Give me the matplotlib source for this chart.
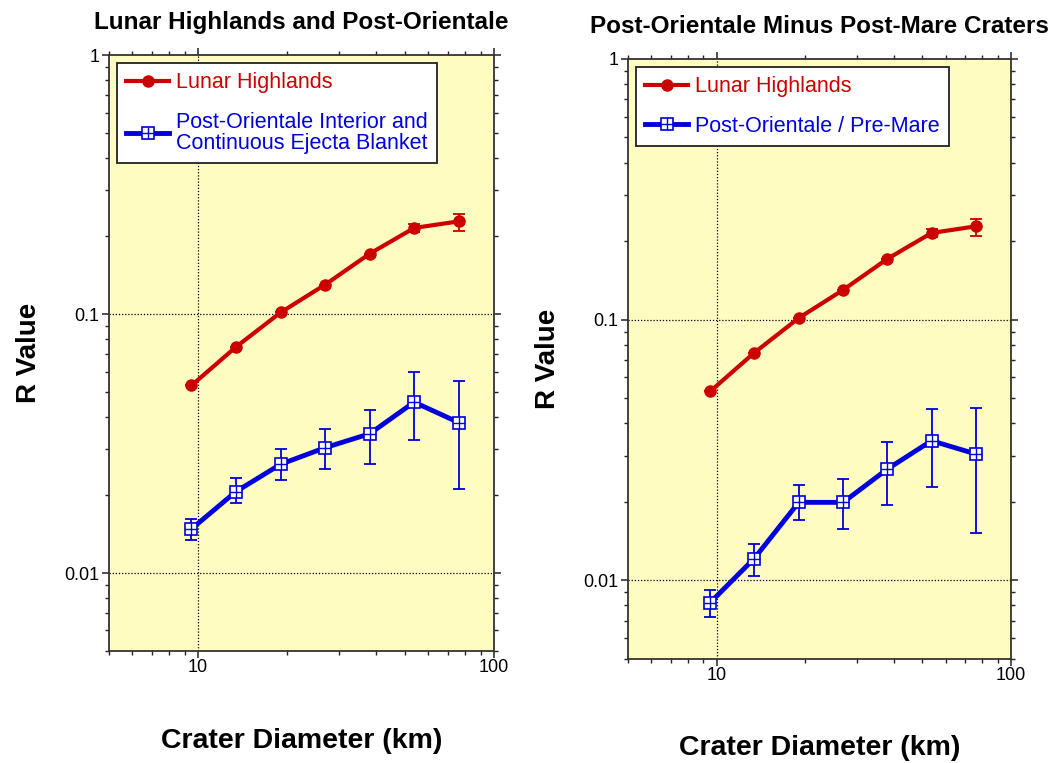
import matplotlib.pyplot as plt
from matplotlib.legend_handler import HandlerTuple
from matplotlib.ticker import LogLocator, FixedLocator, FixedFormatter, NullFormatter
import numpy as np

plt.rcParams['font.family'] = ['Liberation Sans', 'DejaVu Sans']

# Data
diameter = [9.5, 13.4, 19.0, 26.9, 38.0, 53.7, 76.0]

highlands = [0.053, 0.0745, 0.1014, 0.130, 0.171, 0.215, 0.228]
highlands_lo = [0.053, 0.0745, 0.1014, 0.130, 0.171, 0.207, 0.209]
highlands_hi = [0.053, 0.0745, 0.1014, 0.130, 0.171, 0.223, 0.244]

post_ori = [0.0148, 0.0206, 0.0263, 0.0305, 0.0345, 0.0457, 0.0381]
post_ori_lo = [0.0134, 0.0186, 0.0228, 0.0252, 0.0263, 0.0326, 0.0212]
post_ori_hi = [0.0162, 0.0232, 0.0301, 0.0361, 0.0425, 0.0595, 0.0551]

pre_mare = [0.0082, 0.0121, 0.0199, 0.0199, 0.0267, 0.0343, 0.0305]
pre_mare_lo = [0.0072, 0.0104, 0.0170, 0.0157, 0.0195, 0.0228, 0.0152]
pre_mare_hi = [0.0092, 0.0138, 0.0232, 0.0244, 0.0340, 0.0455, 0.0460]

titles = ["Lunar Highlands and Post-Orientale", "Post-Orientale Minus Post-Mare Craters"]
blue_labels = ["Post-Orientale Interior and\nContinuous Ejecta Blanket", "Post-Orientale / Pre-Mare"]

RED = '#cc0000'
BLUE = '#0000dd'
BG = '#fffcc2'


def yerr(v, lo, hi):
    v = np.array(v)
    return [v - np.array(lo), np.array(hi) - v]


fig = plt.figure(figsize=(10.55, 7.63), dpi=100)
ax1 = fig.add_axes([0.1033, 0.1468, 0.365, 0.781])
ax2 = fig.add_axes([0.5953, 0.1367, 0.363, 0.786])

panels = [(ax1, post_ori, post_ori_lo, post_ori_hi),
          (ax2, pre_mare, pre_mare_lo, pre_mare_hi)]

for i, (ax, b, blo, bhi) in enumerate(panels):
    ax.set_facecolor(BG)
    ax.set_xscale('log')
    ax.set_yscale('log')
    ax.set_xlim(5, 100)
    ax.set_ylim(0.005, 1)

    # red series
    ax.errorbar(diameter, highlands, yerr=yerr(highlands, highlands_lo, highlands_hi),
                fmt='none', ecolor=RED, elinewidth=1.3, capsize=4, capthick=1.3, zorder=3)
    red_line, = ax.plot(diameter, highlands, color=RED, lw=3, marker='o', ms=8,
                        mfc=RED, mec=RED, zorder=4)

    # blue series
    ax.errorbar(diameter, b, yerr=yerr(b, blo, bhi),
                fmt='none', ecolor=BLUE, elinewidth=1.3, capsize=4, capthick=1.3, zorder=3)
    blue_line, = ax.plot(diameter, b, color=BLUE, lw=3.5, marker='s', ms=8.5,
                         mfc='white', mec=BLUE, mew=1.2, zorder=4)
    plus, = ax.plot(diameter, b, ls='none', marker='+', ms=8.5, mec=BLUE, mew=1.0, zorder=5)

    # grid only at decades
    ax.axvline(10, color='black', ls=(0, (1, 1.5)), lw=0.9, zorder=1)
    for gy in [0.1, 0.01]:
        ax.axhline(gy, color='black', ls=(0, (1, 1.5)), lw=0.9, zorder=1)

    ax.xaxis.set_major_locator(FixedLocator([10, 100]))
    ax.xaxis.set_major_formatter(FixedFormatter(['10', '100']))
    ax.xaxis.set_minor_locator(LogLocator(base=10, subs=np.arange(2, 10)))
    ax.xaxis.set_minor_formatter(NullFormatter())
    ax.yaxis.set_major_locator(FixedLocator([0.01, 0.1, 1]))
    ax.yaxis.set_major_formatter(FixedFormatter(['0.01', '0.1', '1']))
    ax.yaxis.set_minor_locator(LogLocator(base=10, subs=np.arange(2, 10)))
    ax.yaxis.set_minor_formatter(NullFormatter())

    ax.tick_params(which='both', direction='out', top=True, right=True, colors='#222222')
    ax.tick_params(which='major', length=5, width=1.1, labelsize=13, labelcolor='black')
    ax.tick_params(axis='x', which='major', pad=1)
    ax.tick_params(axis='y', which='major', pad=2)
    ax.tick_params(which='minor', length=3, width=1.0)
    for sp in ax.spines.values():
        sp.set_linewidth(1.3)
        sp.set_color('#333333')

    ax.set_title(titles[i], fontsize=17.5, fontweight='bold', pad=19)
    ax.set_xlabel("Crater Diameter (km)", fontsize=20.5, fontweight='bold', labelpad=37)
    ax.set_ylabel("R Value", fontsize=20, fontweight='bold', labelpad=16)

    leg = ax.legend([red_line, (blue_line, plus)], ["Lunar Highlands", blue_labels[i]],
                    handler_map={tuple: HandlerTuple(ndivide=1)},
                    loc='upper left', bbox_to_anchor=(0.0, 1.0), fontsize=15.5,
                    frameon=True, fancybox=False, framealpha=1, edgecolor='#222222',
                    handlelength=2.0, handletextpad=0.3, borderpad=0.45,
                    labelspacing=0.85, borderaxespad=0.35)
    leg.get_frame().set_linewidth(1.3)
    texts = leg.get_texts()
    texts[0].set_color(RED)
    texts[1].set_color(BLUE)
    for t in texts:
        t.set_linespacing(1.0)

plt.savefig("out.png", dpi=100)
